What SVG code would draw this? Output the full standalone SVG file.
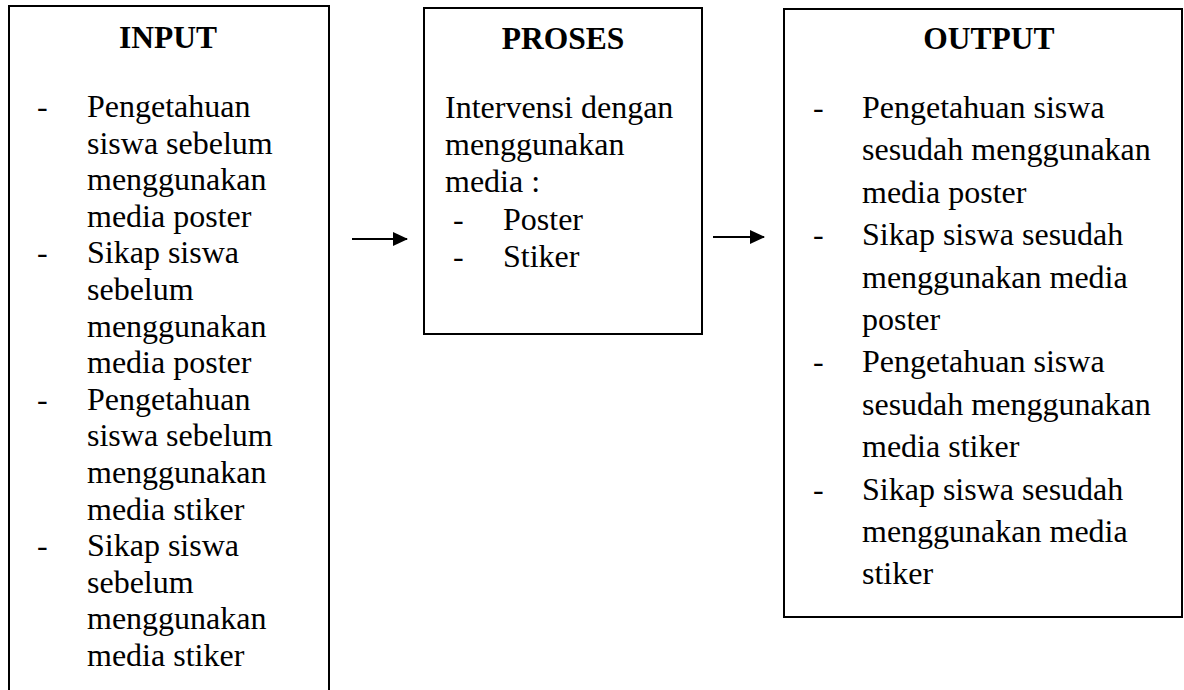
<svg xmlns="http://www.w3.org/2000/svg" width="1184" height="690" viewBox="0 0 1184 690">
<defs>
<style>
.box{fill:#fff;stroke:#000;stroke-width:2}
.t{font-family:"Liberation Serif","Times New Roman",serif;font-size:32px;fill:#000}
.h{font-family:"Liberation Serif","Times New Roman",serif;font-size:31.5px;font-weight:bold;fill:#000;text-anchor:middle}
.c{stroke:#000;stroke-width:2.2;fill:none}
</style>
<marker id="ah" viewBox="0 0 15 14" refX="14" refY="7" markerWidth="15" markerHeight="14" markerUnits="userSpaceOnUse" orient="auto">
<path d="M0,0 L15,7 L0,14 z" fill="#000"/>
</marker>
</defs>
<rect width="1184" height="690" fill="#fff"/>
<g id="input">
<rect class="box" x="9" y="6" width="320" height="700"/>
<text class="h" x="168" y="48">INPUT</text>
<text class="t">
<tspan x="37" y="117">-</tspan><tspan x="87" y="117">Pengetahuan</tspan>
<tspan x="87" y="153.6">siswa sebelum</tspan>
<tspan x="87" y="190.2">menggunakan</tspan>
<tspan x="87" y="226.8">media poster</tspan>
<tspan x="37" y="263.4">-</tspan><tspan x="87" y="263.4">Sikap siswa</tspan>
<tspan x="87" y="300">sebelum</tspan>
<tspan x="87" y="336.6">menggunakan</tspan>
<tspan x="87" y="373.2">media poster</tspan>
<tspan x="37" y="409.8">-</tspan><tspan x="87" y="409.8">Pengetahuan</tspan>
<tspan x="87" y="446.4">siswa sebelum</tspan>
<tspan x="87" y="483">menggunakan</tspan>
<tspan x="87" y="519.6">media stiker</tspan>
<tspan x="37" y="556.2">-</tspan><tspan x="87" y="556.2">Sikap siswa</tspan>
<tspan x="87" y="592.8">sebelum</tspan>
<tspan x="87" y="629.4">menggunakan</tspan>
<tspan x="87" y="666">media stiker</tspan>
</text>
</g>
<g id="proses">
<rect class="box" x="424" y="8" width="278" height="326"/>
<text class="h" x="563" y="49">PROSES</text>
<text class="t">
<tspan x="445" y="118">Intervensi dengan</tspan>
<tspan x="445" y="155.2">menggunakan</tspan>
<tspan x="445" y="192.4">media :</tspan>
<tspan x="453" y="229.6">-</tspan><tspan x="503" y="229.6">Poster</tspan>
<tspan x="453" y="266.8">-</tspan><tspan x="503" y="266.8">Stiker</tspan>
</text>
</g>
<g id="output">
<rect class="box" x="784" y="9" width="398" height="608"/>
<text class="h" x="989" y="49">OUTPUT</text>
<text class="t">
<tspan x="813" y="118">-</tspan><tspan x="862" y="118">Pengetahuan siswa</tspan>
<tspan x="862" y="160.4">sesudah menggunakan</tspan>
<tspan x="862" y="202.8">media poster</tspan>
<tspan x="813" y="245.2">-</tspan><tspan x="862" y="245.2">Sikap siswa sesudah</tspan>
<tspan x="862" y="287.6">menggunakan media</tspan>
<tspan x="862" y="330">poster</tspan>
<tspan x="813" y="372.4">-</tspan><tspan x="862" y="372.4">Pengetahuan siswa</tspan>
<tspan x="862" y="414.8">sesudah menggunakan</tspan>
<tspan x="862" y="457.2">media stiker</tspan>
<tspan x="813" y="499.6">-</tspan><tspan x="862" y="499.6">Sikap siswa sesudah</tspan>
<tspan x="862" y="542">menggunakan media</tspan>
<tspan x="862" y="584.4">stiker</tspan>
</text>
</g>
<g id="connectors">
<line class="c" x1="352" y1="239" x2="407" y2="239" marker-end="url(#ah)"/>
<line class="c" x1="713" y1="237" x2="764" y2="237" marker-end="url(#ah)"/>
</g>
</svg>
